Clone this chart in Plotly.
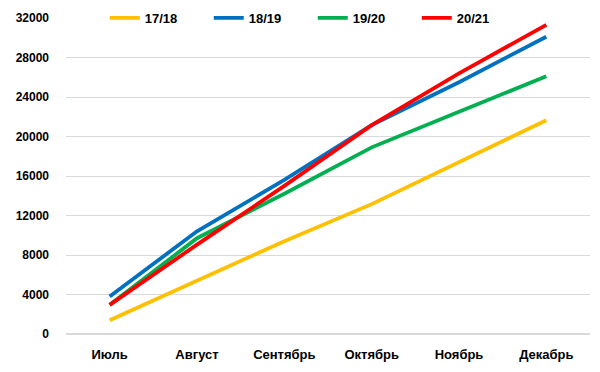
import plotly.graph_objects as go

months = ["Июль", "Август", "Сентябрь", "Октябрь", "Ноябрь", "Декабрь"]
s1718 = [1400, 5400, 9400, 13150, 17400, 21650]
s1819 = [3800, 10400, 15600, 21150, 25500, 30100]
s1920 = [2950, 9700, 14200, 18900, 22500, 26100]
s2021 = [2950, 9050, 15000, 21150, 26400, 31300]
names = ["17/18", "18/19", "19/20", "20/21"]
colors = ["#FFC000", "#0070C0", "#00B050", "#FF0000"]
series = [s1718, s1819, s1920, s2021]
yticks = list(range(0, 32001, 4000))

fig = go.Figure()
for n, c, s in zip(names, colors, series):
    fig.add_trace(go.Scatter(x=months, y=s, name=n, mode="lines",
                             line=dict(color=c, width=3.8)))

font = dict(family="Liberation Sans, Arial, sans-serif", size=12, color="#000000")
fig.update_layout(
    width=600, height=372,
    margin=dict(l=58, r=18, t=10, b=46, autoexpand=False),
    paper_bgcolor="white", plot_bgcolor="white",
    font=font,
    showlegend=True,
    legend=dict(orientation="h", x=0.074, y=1.0, xanchor="left", yanchor="middle",
                entrywidth=59, entrywidthmode="pixels", itemwidth=30,
                font=dict(family="Liberation Sans, Arial, sans-serif", size=13, color="#000000", weight="bold"),
                bgcolor="rgba(255,255,255,0)"),
    xaxis=dict(type="category", range=[-0.5, 5.5], showgrid=False, showline=False,
               ticks="", ticklabelstandoff=11, tickfont=dict(size=13, weight="bold"), fixedrange=True),
    yaxis=dict(range=[0, 32000], tickvals=yticks, ticktext=[str(v) for v in yticks],
               showgrid=True, gridcolor="#d9d9d9", gridwidth=1, zeroline=True,
               zerolinecolor="#d9d9d9", showline=False, ticks="",
               ticklabelstandoff=16, tickfont=dict(size=12, weight="bold")),
)
fig.write_html("out.html")
